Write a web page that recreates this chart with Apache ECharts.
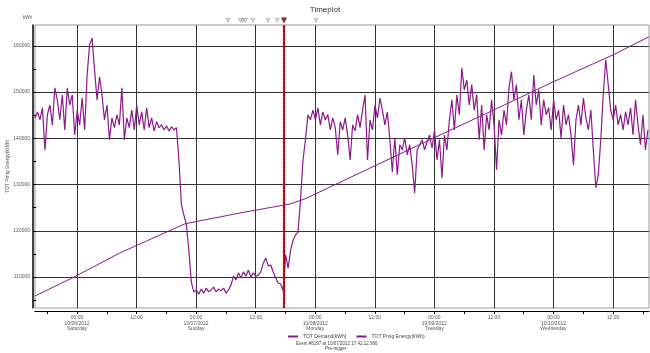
<!DOCTYPE html>
<html><head><meta charset="utf-8">
<script src="https://cdn.jsdelivr.net/npm/echarts@6/dist/echarts.min.js"></script>
<style>html,body{margin:0;padding:0;background:#fff}#c{width:650px;height:353px}</style>
</head><body><div id="c"></div>
<script>
// ---- data ----
const xStart = '2012-10-05 15:32';
const xEnd = '2012-10-10 19:15';
const xTickTimes = ['2012-10-05 18:00','2012-10-06 00:00','2012-10-06 06:00','2012-10-06 12:00','2012-10-06 18:00',
  '2012-10-07 00:00','2012-10-07 06:00','2012-10-07 12:00','2012-10-07 18:00',
  '2012-10-08 00:00','2012-10-08 06:00','2012-10-08 12:00','2012-10-08 18:00',
  '2012-10-09 00:00','2012-10-09 06:00','2012-10-09 12:00','2012-10-09 18:00',
  '2012-10-10 00:00','2012-10-10 06:00','2012-10-10 12:00','2012-10-10 18:00'];
const xLabelTimes = ['2012-10-06 00:00','2012-10-06 12:00','2012-10-07 00:00','2012-10-07 12:00',
  '2012-10-08 00:00','2012-10-08 12:00','2012-10-09 00:00','2012-10-09 12:00','2012-10-10 00:00','2012-10-10 12:00'];
const dayNames = ['Sunday','Monday','Tuesday','Wednesday','Thursday','Friday','Saturday'];
const yMin = 103300, yMax = 164500;
const yTickValues = [105000,110000,115000,120000,125000,130000,135000,140000,145000,150000,155000,160000];
const yLabelValues = [110000,120000,130000,140000,150000,160000];

const demandName = 'TOT Demand(kWh)';
const energyName = 'TOT Pmig Energy(kWh)';
const demandStart = '2012-10-05 15:32';
const demandStepMinutes = 30;
const demand = [
 144400,145700,144000,146600,137500,145100,147200,142900,150900,148300,
 144000,149400,141800,150900,147200,149400,140700,146100,142900,148700,
 141800,153700,160200,161700,154800,148300,153300,149400,144000,147200,
 139700,144400,142300,145100,142900,150900,139700,144400,142300,146100,
 141800,147200,142900,145700,141800,146600,142300,144400,141600,143600,
 142300,142900,141800,142700,141600,142500,141800,142300,135300,125600,
 123400,121300,115800,108900,106800,107200,106300,107400,106500,107600,
 106800,107200,107800,106800,107400,107000,107600,106500,107200,108300,
 110200,109400,110900,109800,111100,110200,111500,110000,110900,110200,
 110400,111100,113000,114100,112400,112600,111100,109800,108700,108500,
 107000,114800,111900,115800,118000,119100,119700,126700,135300,139700,
 145100,144000,146100,144000,146600,142900,145700,144000,145100,141800,
 144400,142300,136400,143600,141800,144400,140700,135300,142900,141600,
 145100,142300,146100,149400,135300,144000,141800,147200,144400,148700,
 146100,142900,145700,139700,132700,140100,132100,138600,137500,140100,
 136400,138600,134200,128200,137500,138600,139700,137500,139200,140700,
 137900,141800,135300,139700,131400,140700,137500,144000,148300,141800,
 149400,145100,155200,150500,152600,147200,151600,146100,149400,139700,
 147200,137500,145100,141800,148300,142900,133200,144000,140700,146100,
 142900,150900,154400,148300,151600,144000,148300,140700,146100,149400,
 144000,153700,147200,150500,142900,148300,145100,146600,141800,148300,
 144000,146100,140100,147200,142900,145100,140700,134200,144000,147200,
 142900,148700,144400,141800,146100,137500,129300,132100,139700,149400,
 157000,151600,146100,144000,147200,142900,145100,141800,145700,142900,
 146600,140700,148300,142900,138600,145100,137500,141800
];
const energyTimes = ['2012-10-05 15:32','2012-10-05 23:24','2012-10-06 08:38','2012-10-06 21:44',
  '2012-10-07 08:50','2012-10-07 18:56','2012-10-07 21:56','2012-10-08 23:56','2012-10-09 12:02',
  '2012-10-09 23:56','2012-10-10 12:02','2012-10-10 19:14'];
const energy = [105900,110000,115200,121500,123850,125800,126900,140100,146150,152200,158050,161950];

const eventMarkerTimes = ['2012-10-07 06:26','2012-10-07 08:56','2012-10-07 09:26','2012-10-07 09:56',
  '2012-10-07 11:26','2012-10-07 14:28','2012-10-07 16:20','2012-10-08 00:08'];
const triggerTime = '2012-10-07 17:42:12';
const eventText = 'Event #8197 at 10/07/2012 17:42:12.966';
const eventSubText = 'Pre-trigger';

// ---- helpers ----
function t(s){
  const [d, tm] = s.split(' ');
  const [Y,M,D] = d.split('-').map(Number);
  const p = tm.split(':').map(Number);
  return Date.UTC(Y, M-1, D, p[0], p[1], p[2]||0);
}
const pad = n => String(n).padStart(2,'0');
const t0 = t(demandStart);
const demandData = demand.map((v,i)=>[t0 + i*demandStepMinutes*60000, v]);
const energyData = energy.map((v,i)=>[t(energyTimes[i]), v]);
const trig = t(triggerTime);
const purple = '#8b1a8b';
const font = 'Liberation Sans, Arial, sans-serif';

const chart = echarts.init(document.getElementById('c'), null, {renderer:'canvas'});
chart.setOption({
  animation: false,
  backgroundColor: '#fff',
  textStyle: {fontFamily: font},
  grid: [
    {left: 35, right: 1, top: 25, bottom: 45, show: true, borderColor: '#999', borderWidth: 1, containLabel: false, outerBoundsMode: 'none'},
    {left: 35, right: 1, top: 17, height: 7, show: false, containLabel: false, outerBoundsMode: 'none'}
  ],
  legend: {
    data: [demandName, energyName], left: 288, top: 334, itemWidth: 10, itemHeight: 2, itemGap: 10,
    icon: 'rect', textStyle: {fontSize: 5, color: '#444', fontFamily: font}, padding: 0
  },
  xAxis: [
    {type: 'value', gridIndex: 0, min: t(xStart), max: t(xEnd), offset: 3,
      axisLine: {show: true, lineStyle: {color: '#000', width: 1.2}},
      axisTick: {show: true, length: 3, lineStyle: {color: '#000'}, customValues: xTickTimes.map(t)},
      axisLabel: {show: true, customValues: xLabelTimes.map(t), fontSize: 5, lineHeight: 5.5, color: '#555', margin: 4,
        formatter: v => {
          const d = new Date(v);
          const hm = pad(d.getUTCHours()) + ':' + pad(d.getUTCMinutes());
          if (d.getUTCHours() !== 0) return hm;
          return hm + '\n' + pad(d.getUTCMonth()+1) + '/' + pad(d.getUTCDate()) + '/' + d.getUTCFullYear() + '\n' + dayNames[d.getUTCDay()];
        }},
      splitLine: {show: false}},
    {type: 'value', gridIndex: 0, min: t(xStart), max: t(xEnd), show: true,
      axisLine: {show: false}, axisLabel: {show: false},
      axisTick: {show: false, customValues: xLabelTimes.map(t)},
      splitLine: {show: true, lineStyle: {color: '#333', width: 1}}},
    {type: 'value', gridIndex: 1, min: t(xStart), max: t(xEnd), show: false}
  ],
  yAxis: [
    {type: 'value', gridIndex: 0, min: yMin, max: yMax, offset: 2,
      name: energyName, nameLocation: 'middle', nameRotate: 90, nameGap: 23, nameMoveOverlap: false,
      nameTextStyle: {fontSize: 5, color: '#555'},
      axisLine: {show: true, lineStyle: {color: '#000', width: 1.5}},
      axisTick: {show: true, inside: true, length: 3, lineStyle: {color: '#000'}, customValues: yTickValues},
      axisLabel: {show: true, customValues: yLabelValues, fontSize: 5, color: '#555', margin: 3, formatter: v => String(v)},
      splitLine: {show: false}},
    {type: 'value', gridIndex: 0, min: yMin, max: yMax, show: true,
      axisLine: {show: false}, axisLabel: {show: false},
      axisTick: {show: false, customValues: yLabelValues},
      splitLine: {show: true, lineStyle: {color: '#333', width: 1}}},
    {type: 'value', gridIndex: 1, min: 0, max: 1, show: false}
  ],
  series: [
    {name: demandName, type: 'line', xAxisIndex: 0, yAxisIndex: 0, data: demandData, showSymbol: false,
      lineStyle: {color: purple, width: 1.2}, itemStyle: {color: purple}, z: 3,
      markLine: {silent: true, symbol: 'none', label: {show: false}, z: 5,
        data: [
          {xAxis: trig, lineStyle: {color: '#e80010', width: 2.2, type: 'solid'}},
          {xAxis: trig, lineStyle: {color: '#5a0000', width: 0.8, type: [2, 2]}}
        ]}},
    {name: energyName, type: 'line', xAxisIndex: 0, yAxisIndex: 0, data: energyData, showSymbol: false,
      lineStyle: {color: purple, width: 1}, itemStyle: {color: purple}, z: 2},
    {name: 'events', type: 'scatter', xAxisIndex: 2, yAxisIndex: 2, symbol: 'triangle', symbolRotate: 180, symbolSize: 4,
      data: eventMarkerTimes.map(s => [t(s), 0.5]), itemStyle: {color: '#d8d8d8', borderColor: '#888', borderWidth: 0.6}, z: 4},
    {name: 'trigger', type: 'scatter', xAxisIndex: 2, yAxisIndex: 2, symbol: 'triangle', symbolRotate: 180, symbolSize: 6,
      data: [[trig, 0.5]], itemStyle: {color: '#4a0000'}, z: 6}
  ],
  graphic: [
    {type: 'text', left: 'center', top: 6, style: {text: 'Timeplot', fontSize: 8, fill: '#333', fontFamily: font}},
    {type: 'text', left: 23, top: 15, style: {text: 'kWh', fontSize: 4.5, fill: '#555', fontFamily: font}},
    {type: 'text', left: 296, top: 341, style: {text: eventText, fontSize: 4.5, fill: '#444', fontFamily: font}},
    {type: 'text', left: 325, top: 346.5, style: {text: eventSubText, fontSize: 4.5, fill: '#444', fontFamily: font}}
  ]
});
</script></body></html>
